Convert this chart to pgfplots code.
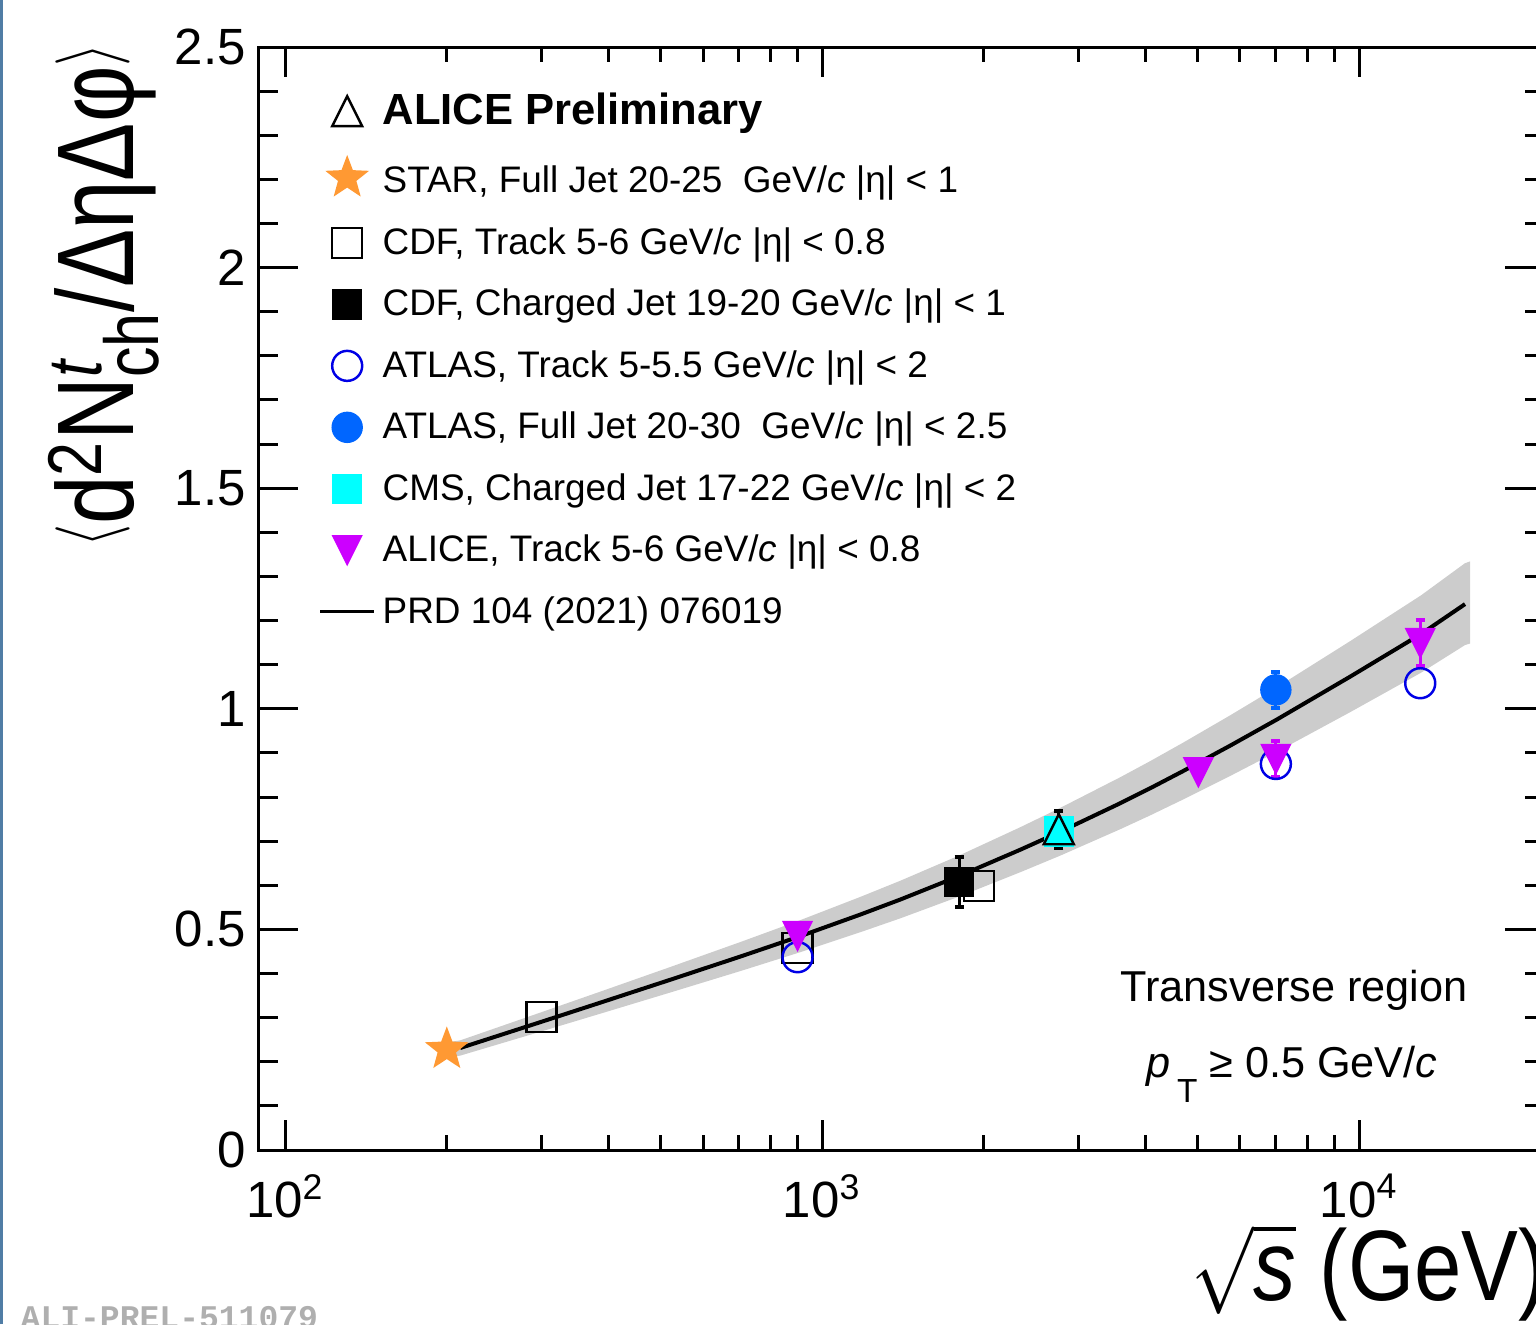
\documentclass[border=0pt]{standalone}
\usepackage{fontspec}
\setmainfont{Liberation Sans}
\newfontfamily\monofont{Liberation Mono}
\usepackage{graphicx}
\usepackage{pgfplots}
\pgfplotsset{compat=1.18}

\definecolor{starorange}{RGB}{255,153,51}
\definecolor{atlasblue}{RGB}{0,102,255}
\definecolor{openblue}{RGB}{0,0,230}
\definecolor{alimag}{RGB}{204,0,255}
\definecolor{cmscyan}{RGB}{0,255,255}
\definecolor{bandgray}{RGB}{204,204,204}
\definecolor{prelgray}{RGB}{175,175,175}
\definecolor{edgeblue}{RGB}{80,125,165}

\pgfdeclareplotmark{rtriup}{%
  \pgfpathmoveto{\pgfqpoint{0pt}{\pgfplotmarksize}}%
  \pgfpathlineto{\pgfqpoint{-\pgfplotmarksize}{-\pgfplotmarksize}}%
  \pgfpathlineto{\pgfqpoint{\pgfplotmarksize}{-\pgfplotmarksize}}%
  \pgfpathclose\pgfusepathqstroke}
\pgfdeclareplotmark{rtridown*}{%
  \pgfpathmoveto{\pgfqpoint{0pt}{-\pgfplotmarksize}}%
  \pgfpathlineto{\pgfqpoint{-\pgfplotmarksize}{\pgfplotmarksize}}%
  \pgfpathlineto{\pgfqpoint{\pgfplotmarksize}{\pgfplotmarksize}}%
  \pgfpathclose\pgfusepathqfillstroke}
\pgfdeclareplotmark{fstar}{%
  \pgfpathmoveto{\pgfqpoint{0pt}{\pgfplotmarksize}}%
  \pgfpathlineto{\pgfqpoint{-0.2469\pgfplotmarksize}{0.3398\pgfplotmarksize}}%
  \pgfpathlineto{\pgfqpoint{-0.9511\pgfplotmarksize}{0.3090\pgfplotmarksize}}%
  \pgfpathlineto{\pgfqpoint{-0.3995\pgfplotmarksize}{-0.1298\pgfplotmarksize}}%
  \pgfpathlineto{\pgfqpoint{-0.5878\pgfplotmarksize}{-0.8090\pgfplotmarksize}}%
  \pgfpathlineto{\pgfqpoint{0pt}{-0.42\pgfplotmarksize}}%
  \pgfpathlineto{\pgfqpoint{0.5878\pgfplotmarksize}{-0.8090\pgfplotmarksize}}%
  \pgfpathlineto{\pgfqpoint{0.3995\pgfplotmarksize}{-0.1298\pgfplotmarksize}}%
  \pgfpathlineto{\pgfqpoint{0.9511\pgfplotmarksize}{0.3090\pgfplotmarksize}}%
  \pgfpathlineto{\pgfqpoint{0.2469\pgfplotmarksize}{0.3398\pgfplotmarksize}}%
  \pgfpathclose\pgfusepathqfill}

\newcommand{\lstrut}{\rule[-0.09cm]{0pt}{0.37cm}}
\newcommand{\abr}[1]{\raisebox{0.2em}{\scalebox{0.85}{$#1$}}}

\begin{document}
\begin{tikzpicture}
\path[use as bounding box] (-2.58,-1.74) rectangle (12.78,11.50);
\clip (-2.58,-1.74) rectangle (12.78,11.50);
\begin{axis}[
  at={(0,0)}, anchor=south west,
  scale only axis, width=12.87cm, height=11.03cm,
  xmode=log, xmin=89, xmax=22200, ymin=0, ymax=2.5,
  xtick={100,1000,10000},
  xticklabels={10\textsuperscript{2},10\textsuperscript{3},10\textsuperscript{4}},
  ytick={0,0.5,1,1.5,2,2.5}, minor y tick num=4,
  /pgf/number format/assume math mode=true,
  tick label style={font=\fontsize{14.5}{15}\selectfont},
  xticklabel style={yshift=-0.12cm},
  axis line style={line width=0.85pt},
  every tick/.style={black, line width=0.85pt},
  major tick length=0.4cm, minor tick length=0.2cm,
  every x tick/.append style={/pgfplots/major tick length=0.3cm,/pgfplots/minor tick length=0.15cm},
  xlabel={\fontsize{28.5}{30}\selectfont\scalebox{0.85}[1]{$\sqrt{\mbox{\itshape s}}$ (GeV)}},
  xlabel style={at={(axis description cs:1.002,-0.136)}, anchor=base east, inner sep=0pt},
  ylabel={\fontsize{31}{31}\selectfont\scalebox{0.8}[1]{\abr{\langle}d\textsuperscript{2}N\rlap{\textsuperscript{\itshape t}}\textsubscript{ch}/ΔηΔφ\abr{\rangle}}},
  ylabel style={at={(axis description cs:-0.0971,1.004)}, anchor=base east, inner sep=0pt},
  legend cell align=left,
  legend image code/.code={\draw[mark repeat=2,mark phase=2,#1] plot coordinates {(0cm,0cm) (0.27cm,0cm) (0.54cm,0cm)};},
  legend style={at={(rel axis cs:0.0466,0.9637)}, anchor=north west, draw=none, fill=none,
    inner sep=0pt, row sep=0.182cm, column sep=0.02cm, nodes={inner sep=0.05cm},
    font=\fontsize{10.5}{12}\selectfont},
]
% model band
\addplot[fill=bandgray, draw=none, forget plot] coordinates {
 (203,0.245) (211.8,0.2485) (298.5,0.3114) (386.1,0.3589) (521.2,0.4147) (703.6,0.4712)
 (910.1,0.5209) (1177,0.5735) (1397,0.6101) (1807,0.6685) (2337,0.7314) (2775,0.7753)
 (3589,0.8447) (4081,0.8813) (4701,0.9232) (5752,0.9851) (7037,1.0492) (9623,1.1533)
 (13049,1.2573) (15754,1.3301) (16100,1.334)
 (16100,1.148) (15754,1.1445) (13049,1.0819) (9623,0.9923) (7037,0.9028) (5752,0.8477)
 (4701,0.7944) (4081,0.7583) (3589,0.7269) (2775,0.6671) (2337,0.6294) (1807,0.5753)
 (1397,0.5249) (1177,0.4935) (910.1,0.4483) (703.6,0.4054) (521.2,0.3569) (386.1,0.3089)
 (298.5,0.2680) (211.8,0.2139) (203,0.211)
} -- cycle;
% model line
\addplot[black, line width=0.04cm, forget plot] coordinates {
 (211.8,0.2312) (298.5,0.2897) (386.1,0.3339) (521.2,0.3858) (703.6,0.4383) (910.1,0.4846)
 (1177,0.5335) (1397,0.5675) (1807,0.6219) (2337,0.6804) (2775,0.7212) (3589,0.7858)
 (4081,0.8198) (4701,0.8588) (5752,0.9164) (7037,0.9760) (9623,1.0728) (13049,1.1696)
 (15754,1.2373)
};
% CDF track (open squares)
\addplot[only marks, mark=square, mark size=0.15cm, black, line width=0.7pt, forget plot]
 coordinates {(300,0.302) (900,0.458) (1960,0.598)};
% CMS charged jet
\addplot[only marks, mark=square*, mark size=0.145cm, cmscyan, forget plot]
 coordinates {(2760,0.722)};
% ALICE preliminary
\addplot[only marks, mark=rtriup, mark size=0.15cm, black, line width=0.7pt, forget plot,
  error bars/.cd, y dir=both, y explicit, error bar style={line width=0.03cm},
  error mark options={rotate=90, line width=0.04cm, mark size=0.045cm}]
 coordinates {(2760,0.727) +- (0,0.042)};
% CDF charged jet
\addplot[only marks, mark=square*, mark size=0.145cm, black, forget plot,
  error bars/.cd, y dir=both, y explicit, error bar style={line width=0.03cm},
  error mark options={rotate=90, line width=0.04cm, mark size=0.045cm}]
 coordinates {(1800,0.607) +- (0,0.056)};
% ATLAS track (open circles)
\addplot[only marks, mark=o, mark size=0.15cm, openblue, line width=0.7pt, forget plot]
 coordinates {(900,0.437) (7000,0.875) (13000,1.058)};
% ATLAS full jet
\addplot[only marks, mark=*, mark size=0.15cm, atlasblue, forget plot,
  error bars/.cd, y dir=both, y explicit, error bar style={line width=0.03cm},
  error mark options={rotate=90, line width=0.04cm, mark size=0.045cm}]
 coordinates {(7000,1.043) +- (0,0.041)};
% ALICE track
\addplot[only marks, mark=rtridown*, mark size=0.145cm, alimag, forget plot,
  error bars/.cd, y dir=both, y explicit, error bar style={line width=0.03cm},
  error mark options={rotate=90, line width=0.04cm, mark size=0.045cm}]
 coordinates {(900,0.485) +- (0,0) (5020,0.856) +- (0,0) (7000,0.886) +- (0,0.041) (13000,1.149) +- (0,0.052)};
% STAR
\addplot[only marks, mark=fstar, mark size=0.23cm, starorange, forget plot]
 coordinates {(200,0.228)};

% legend
\addlegendimage{only marks, mark=rtriup, mark size=0.15cm, black, line width=0.7pt}
\addlegendentry{\fontsize{12.4}{13}\selectfont\bfseries ALICE Preliminary\rule[-0.2cm]{0pt}{0.1cm}}
\addlegendimage{only marks, mark=fstar, mark size=0.23cm, starorange}
\addlegendentry{\rule[-0.09cm]{0pt}{0.44cm}STAR, Full Jet 20-25\ \ GeV/{\itshape c} |η| < 1}
\addlegendimage{only marks, mark=square, mark size=0.15cm, black, line width=0.7pt}
\addlegendentry{\lstrut CDF, Track 5-6 GeV/{\itshape c} |η| < 0.8}
\addlegendimage{only marks, mark=square*, mark size=0.145cm, black}
\addlegendentry{\lstrut CDF, Charged Jet 19-20 GeV/{\itshape c} |η| < 1}
\addlegendimage{only marks, mark=o, mark size=0.15cm, openblue, line width=0.7pt}
\addlegendentry{\lstrut ATLAS, Track 5-5.5 GeV/{\itshape c} |η| < 2}
\addlegendimage{only marks, mark=*, mark size=0.15cm, atlasblue}
\addlegendentry{\lstrut ATLAS, Full Jet 20-30\ \ GeV/{\itshape c} |η| < 2.5}
\addlegendimage{only marks, mark=square*, mark size=0.145cm, cmscyan}
\addlegendentry{\lstrut CMS, Charged Jet 17-22 GeV/{\itshape c} |η| < 2}
\addlegendimage{only marks, mark=rtridown*, mark size=0.145cm, alimag}
\addlegendentry{\lstrut ALICE, Track 5-6 GeV/{\itshape c} |η| < 0.8}
\addlegendimage{black, line width=0.03cm, mark=none}
\addlegendentry{\lstrut PRD 104 (2021) 076019}

\node[anchor=base east, inner sep=0pt, font=\fontsize{12.3}{13}\selectfont] at (rel axis cs:0.9402,0.1342) {Transverse region};
\node[anchor=base east, inner sep=0pt, font=\fontsize{12.3}{13}\selectfont] at (rel axis cs:0.9169,0.0653)
 {{\itshape p}\hspace{0.06cm}\raisebox{-0.25cm}{\fontsize{9.5}{10}\selectfont T}\hspace{0.12cm}≥ 0.5 GeV/{\itshape c}};
\end{axis}
\draw[edgeblue, line width=0.03cm] (-2.565,-1.74) -- (-2.565,11.50);
\node[anchor=base west, inner sep=0pt, text=prelgray, font=\monofont\bfseries\fontsize{9.4}{10}\selectfont] at (-2.38,-1.78) {ALI-PREL-511079};
\end{tikzpicture}
\end{document}
